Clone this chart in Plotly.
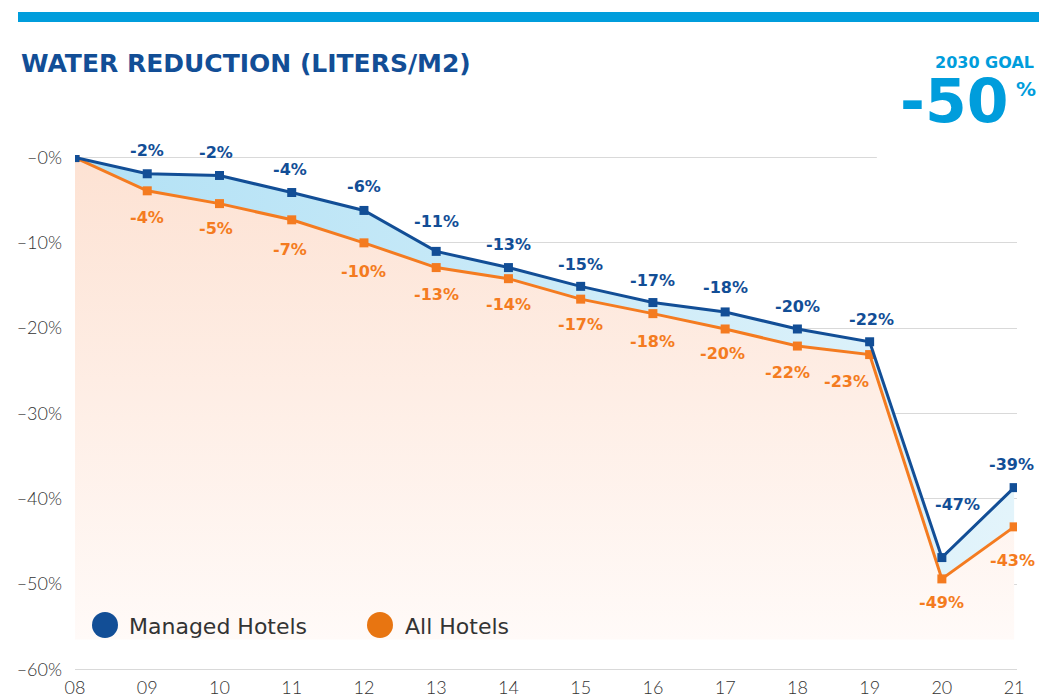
import plotly.graph_objects as go

# ---- data ----
YEARS = ["08", "09", "10", "11", "12", "13", "14", "15", "16", "17", "18", "19", "20", "21"]
MANAGED = [0.0, -1.9, -2.1, -4.1, -6.2, -11.0, -12.9, -15.1, -17.0, -18.1, -20.1, -21.6, -46.9, -38.7]
ALL_HOTELS = [0.0, -3.9, -5.4, -7.3, -10.0, -12.9, -14.2, -16.6, -18.3, -20.1, -22.1, -23.1, -49.4, -43.3]
Y_TICKS = [0, -10, -20, -30, -40, -50, -60]
Y_TICK_LABELS = [f"–{abs(v)}%" for v in Y_TICKS]

# ---- style ----
W, H = 1039, 698
ML, MR, MT, MB = 75, 22, 155, 27
BLUE = "#124e96"
ORANGE = "#f47b20"
CYAN = "#009ddc"
FILL_FLOOR = -56.5
HEAVY = "DejaVu Sans"
LIGHT = "Lato"

# label offsets (pixels) per point
M_YSHIFT = [0, 23, 23, 23, 24, 30, 23, 22, 22, 24, 22, 22, 53, 23]
M_XSHIFT = [0, 0, -3, -2, 0, 0, 0, 0, 0, 0, 0, 2, 16, -3]
A_YSHIFT = [0, -27, -25, -30, -29, -27, -26, -25, -28, -25, -26, -27, -24, -34]
A_XSHIFT = [0, 0, -3, -2, 0, 0, 0, 0, 0, -3, -10, -23, 0, -2]

X = list(range(len(YEARS)))
pw, ph = W - ML - MR, H - MT - MB


def px(xp):
    return (xp - ML) / pw


def py(yp):
    return 1 - (yp - MT) / ph


fig = go.Figure()

# invisible floor for the peach gradient
fig.add_trace(go.Scatter(x=X, y=[FILL_FLOOR] * len(X), mode="lines",
                         line=dict(width=0, color="rgba(0,0,0,0)"),
                         hoverinfo="skip", showlegend=False))
# All hotels
fig.add_trace(go.Scatter(
    x=X, y=ALL_HOTELS, mode="lines+markers", name="All Hotels",
    line=dict(color=ORANGE, width=3), marker=dict(symbol="square", size=9, color=ORANGE),
    fill="tonexty",
    fillgradient=dict(type="vertical", start=0, stop=FILL_FLOOR,
                      colorscale=[[0, "#fde2d3"], [1, "#fffaf8"]]),
    showlegend=False))
# Managed hotels
fig.add_trace(go.Scatter(
    x=X, y=MANAGED, mode="lines+markers", name="Managed Hotels",
    line=dict(color=BLUE, width=3), marker=dict(symbol="square", size=9, color=BLUE),
    fill="tonexty",
    fillgradient=dict(type="horizontal", start=0, stop=len(X) - 1,
                      colorscale=[[0, "#b2e1f5"], [1, "#e3f4fb"]]),
    showlegend=False))

annotations = []
label_font = dict(family=HEAVY, size=16, weight="bold")
for i, (m, a) in enumerate(zip(MANAGED, ALL_HOTELS)):
    if i == 0:
        continue
    annotations.append(dict(x=X[i], y=m, xref="x", yref="y", text=f"{round(m)}%",
                            showarrow=False, yshift=M_YSHIFT[i], xshift=M_XSHIFT[i],
                            font=dict(color=BLUE, **label_font)))
    annotations.append(dict(x=X[i], y=a, xref="x", yref="y", text=f"{round(a)}%",
                            showarrow=False, yshift=A_YSHIFT[i], xshift=A_XSHIFT[i],
                            font=dict(color=ORANGE, **label_font)))

# title and goal
annotations.append(dict(x=px(19), y=py(64), xref="paper", yref="paper", xanchor="left", yanchor="middle",
                        text="WATER REDUCTION (LITERS/M2)", showarrow=False,
                        font=dict(family=HEAVY, size=25, color=BLUE, weight="bold")))
annotations.append(dict(x=px(1036), y=py(62), xref="paper", yref="paper", xanchor="right", yanchor="middle",
                        text="2030 GOAL", showarrow=False,
                        font=dict(family=HEAVY, size=16, color=CYAN, weight="bold")))
annotations.append(dict(x=px(1010), y=py(101), xref="paper", yref="paper", xanchor="right", yanchor="middle",
                        text="-50", showarrow=False,
                        font=dict(family=HEAVY, size=60, color=CYAN, weight="bold")))
annotations.append(dict(x=px(1014), y=py(89), xref="paper", yref="paper", xanchor="left", yanchor="middle",
                        text="%", showarrow=False,
                        font=dict(family=HEAVY, size=20, color=CYAN, weight="bold")))

shapes = [
    # top accent bar
    dict(type="rect", xref="paper", yref="paper", x0=px(18), x1=px(1039), y0=py(22), y1=py(12),
         fillcolor=CYAN, line=dict(width=0), layer="above"),
    # hide zero gridline under the goal block
    dict(type="rect", xref="x", yref="y", x0=11.1, x1=13.6, y0=-1, y1=1,
         fillcolor="white", line=dict(width=0), layer="between"),
    # legend dots
    dict(type="circle", xref="paper", yref="paper", x0=px(92), x1=px(118), y0=py(612), y1=py(638),
         fillcolor=BLUE, line=dict(width=0), layer="above"),
    dict(type="circle", xref="paper", yref="paper", x0=px(367), x1=px(393), y0=py(612), y1=py(638),
         fillcolor="#e87511", line=dict(width=0), layer="above"),
]
annotations.append(dict(x=px(127), y=py(626), xref="paper", yref="paper", xanchor="left", yanchor="middle",
                        text="Managed Hotels", showarrow=False,
                        font=dict(family="DejaVu Sans", size=22, color="#333333")))
annotations.append(dict(x=px(403), y=py(626), xref="paper", yref="paper", xanchor="left", yanchor="middle",
                        text="All Hotels", showarrow=False,
                        font=dict(family="DejaVu Sans", size=22, color="#333333")))

fig.update_layout(
    width=W, height=H,
    margin=dict(l=ML, r=MR, t=MT, b=MB, autoexpand=False),
    paper_bgcolor="white", plot_bgcolor="white",
    showlegend=False,
    annotations=annotations, shapes=shapes,
    xaxis=dict(range=[0, 13.04], tickvals=X, ticktext=YEARS, showgrid=False, zeroline=False,
               showline=False, ticks="", ticklabelstandoff=4, automargin=False,
               tickfont=dict(family=LIGHT, size=18, color="#333333", weight=300)),
    yaxis=dict(range=[-60.2, 0.3], tickvals=Y_TICKS, ticktext=Y_TICK_LABELS, showgrid=True,
               gridcolor="#d9d9d9", gridwidth=1, zeroline=False, showline=False, ticks="",
               ticklabelstandoff=12, automargin=False,
               tickfont=dict(family=LIGHT, size=18, color="#333333", weight=300)),
)

fig.write_html("out.html", config={"displayModeBar": False},
               post_script="document.body.style.margin='0px';")
